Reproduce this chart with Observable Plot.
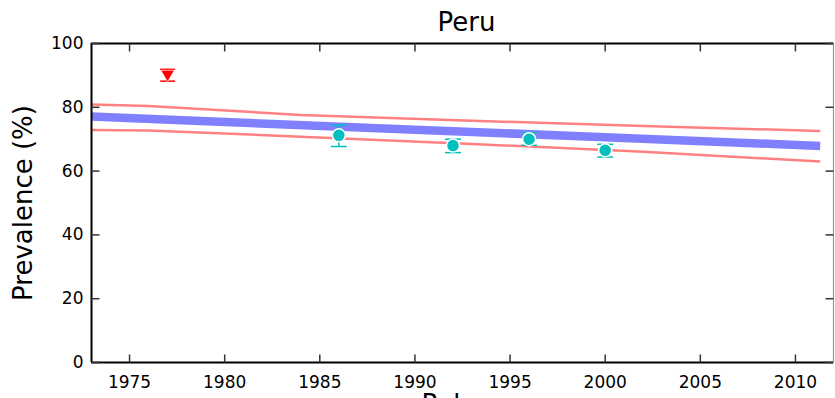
<!DOCTYPE html>
<html><head><meta charset="utf-8">
<script src="https://cdn.jsdelivr.net/npm/d3@7"></script>
<script src="https://cdn.jsdelivr.net/npm/@observablehq/plot@0.6"></script>
<style>
html,body{margin:0;padding:0;background:#fff;overflow:hidden;}
</style>
</head><body><div id="chart"></div>
<script>
const title = "Peru";
const xLabel = "Pub. year";
const yLabel = "Prevalence (%)";
const xTicks = [1975, 1980, 1985, 1990, 1995, 2000, 2005, 2010];
const yTicks = [0, 20, 40, 60, 80, 100];
const xDomain = [1973, 2012];
const yDomain = [0, 100];

// model fit (mean) and uncertainty bounds
const fitYears = [1973, 1980, 1990, 2000, 2011.3];
const fitMean = [77.1, 75.4, 73.0, 70.6, 67.9];
const boundYears = [1973, 1976, 1984, 1993, 2002, 2011.3];
const upperVals = [80.9, 80.4, 77.6, 75.8, 74.1, 72.6];
const lowerVals = [72.9, 72.7, 70.8, 68.5, 66.1, 63.0];

// observations
const obsYears = [1986, 1992, 1996, 2000];
const obsVals = [71.2, 68.0, 70.0, 66.5];
const obsLo = [67.7, 65.8, 68.1, 64.4];
const obsHi = [74.4, 70.0, 72.1, 68.4];

// excluded observation
const outYears = [1977];
const outVals = [90.4];
const outLo = [88.2];
const outHi = [91.9];

const fit = fitYears.map((x, i) => ({x, y: fitMean[i]}));
const upper = boundYears.map((x, i) => ({x, y: upperVals[i]}));
const lower = boundYears.map((x, i) => ({x, y: lowerVals[i]}));
const obs = obsYears.map((x, i) => ({x, y: obsVals[i], lo: obsLo[i], hi: obsHi[i]}));
const out = outYears.map((x, i) => ({x, y: outVals[i], lo: outLo[i], hi: outHi[i]}));
const caps = (arr) => arr.flatMap(d => [{x: d.x, y: d.lo}, {x: d.x, y: d.hi}]);

const cyan = "#00bfbf";
const tickCol = "#333";

const chart = Plot.plot({
  width: 835, height: 398,
  marginLeft: 91, marginRight: 2, marginTop: 43, marginBottom: 36,
  style: {fontFamily: "DejaVu Sans, sans-serif", fontSize: "17px", background: "white", color: "black"},
  x: {domain: xDomain, axis: null},
  y: {domain: yDomain, axis: null},
  marks: [
    Plot.line(fit, {x: "x", y: "y", stroke: "#8080ff", strokeWidth: 8.5, strokeLinecap: "butt", clip: true}),
    Plot.line(upper, {x: "x", y: "y", stroke: "#ff8080", strokeWidth: 2.5, strokeLinecap: "butt", clip: true}),
    Plot.line(lower, {x: "x", y: "y", stroke: "#ff8080", strokeWidth: 2.5, strokeLinecap: "butt", clip: true}),
    Plot.ruleX(obs, {x: "x", y1: "lo", y2: "hi", stroke: cyan, strokeWidth: 1.5}),
    Plot.vector(caps(obs), {x: "x", y: "y", length: 16, rotate: 90, anchor: "middle", r: 0, stroke: cyan, strokeWidth: 1.5, strokeLinecap: "butt"}),
    Plot.dot(obs, {x: "x", y: "y", r: 6.5, fill: cyan, stroke: "white", strokeWidth: 1.5}),
    Plot.ruleX(out, {x: "x", y1: "lo", y2: "hi", stroke: "red", strokeWidth: 1.2}),
    Plot.vector(caps(out), {x: "x", y: "y", length: 15, rotate: 90, anchor: "middle", r: 0, stroke: "red", strokeWidth: 1.5, strokeLinecap: "butt"}),
    Plot.dot(out, {x: "x", y: "y", symbol: "triangle", rotate: 180, r: 5, fill: "red", stroke: "white", strokeWidth: 0.6}),
    // frame
    Plot.ruleY([yDomain[0]], {stroke: "black", strokeWidth: 2}),
    Plot.ruleY([yDomain[1]], {stroke: "black", strokeWidth: 2}),
    Plot.ruleX([xDomain[0]], {stroke: "black", strokeWidth: 2}),
    Plot.ruleX([xDomain[1]], {stroke: "#999", strokeWidth: 1.2}),
    // inward ticks
    Plot.vector(xTicks, {x: d => d, y: yDomain[0], length: 8, rotate: 0, anchor: "start", r: 0, stroke: tickCol, strokeWidth: 1.5, strokeLinecap: "butt"}),
    Plot.vector(xTicks, {x: d => d, y: yDomain[1], length: 8, rotate: 180, anchor: "start", r: 0, stroke: tickCol, strokeWidth: 1.5, strokeLinecap: "butt"}),
    Plot.vector(yTicks, {x: xDomain[0], y: d => d, length: 8, rotate: 90, anchor: "start", r: 0, stroke: tickCol, strokeWidth: 1.5, strokeLinecap: "butt"}),
    Plot.vector(yTicks, {x: xDomain[1], y: d => d, length: 8, rotate: 270, anchor: "start", r: 0, stroke: tickCol, strokeWidth: 1.5, strokeLinecap: "butt"}),
    // tick labels
    Plot.text(xTicks, {x: d => d, y: yDomain[0], text: d => String(d), lineAnchor: "top", dy: 13, fontSize: 17, fill: "black"}),
    Plot.text(yTicks, {x: xDomain[0], y: d => d, text: d => String(d), textAnchor: "end", dx: -8, fontSize: 17, fill: "black"}),
    // titles
    Plot.text([title], {frameAnchor: "top", lineAnchor: "top", dy: -31, dx: 4, fontSize: 26, fill: "black"}),
    Plot.text([yLabel], {frameAnchor: "left", textAnchor: "middle", rotate: -90, dx: -68, fontSize: 26, fill: "black"}),
    Plot.text([xLabel], {frameAnchor: "bottom", textAnchor: "start", lineAnchor: "top", dx: -41, dy: 32, fontSize: 26, fill: "black"})
  ]
});
document.getElementById("chart").appendChild(chart);
</script>
</body></html>
